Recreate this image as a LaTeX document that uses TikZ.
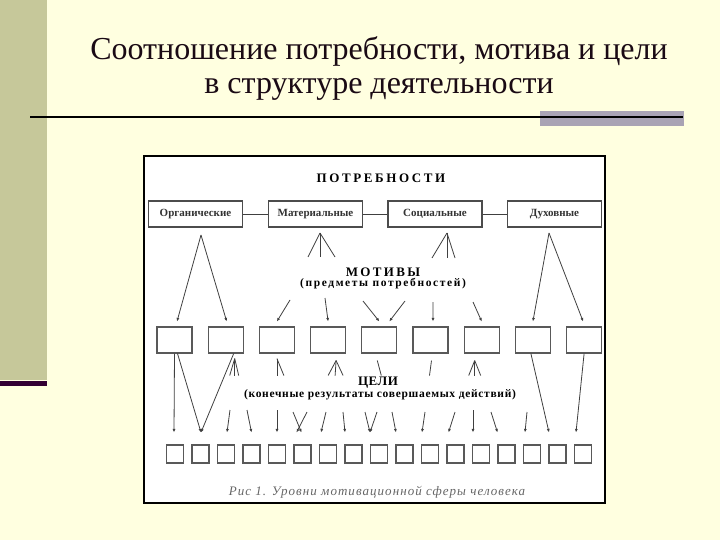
\documentclass[tikz,border=0pt]{standalone}
\usepackage{fontspec}
\setmainfont{Liberation Serif}
\usetikzlibrary{arrows.meta}
\definecolor{slidebg}{HTML}{FFFFE0}
\definecolor{slidebar}{HTML}{C6C89A}
\definecolor{slideline}{HTML}{330033}
\definecolor{slidegray}{HTML}{A9A3B4}
\definecolor{titleink}{HTML}{1A0A14}

\begin{document}
\begin{tikzpicture}[x=1pt,y=-1pt,
  needbox/.style={draw=black!70,line width=1.1pt,fill=white,minimum width=94pt,minimum height=26pt,inner sep=0pt,
    font=\fontsize{11}{12}\selectfont\bfseries,text=black!80},
  motbox/.style={draw=black!65,line width=1.1pt,fill=white,minimum width=35pt,minimum height=26pt,inner sep=0pt},
  goalbox/.style={draw=black!65,line width=1.1pt,fill=white,minimum width=17pt,minimum height=18pt,inner sep=0pt},
  ln/.style={draw=black!75,line width=0.8pt},
  arr/.style={ln,-{Latex[length=3.5pt,width=3pt]}},
  heading/.style={inner sep=0pt,font=\fontsize{13}{15}\selectfont\bfseries},
  subhead/.style={inner sep=0pt,font=\fontsize{11.5}{13}\selectfont\bfseries}]

  \useasboundingbox (0,0) rectangle (720,540);
  \fill[slidebg] (0,0) rectangle (720,540);
  \fill[slidebar] (0,0) rectangle (47,380);
  \fill[slideline] (0,381) rectangle (47,386);
  \node[font=\fontsize{32}{38}\selectfont,text=titleink] (title1) at (379,51) {Соотношение потребности, мотива и цели};
  \node[font=\fontsize{32}{38}\selectfont,text=titleink] (title2) at (379,89) {в структуре деятельности};
  \fill[slidegray] (540,111) rectangle (684,126);
  \draw[black,line width=2pt] (30,117) -- (683,117);

  \draw[black,line width=2.5pt,fill=white] (144,156) rectangle (605,503);

  \node[heading] (needs) at (381,178) {\addfontfeature{LetterSpace=20}ПОТРЕБНОСТИ};
  \foreach \name/\x/\txt in {n1/195.5/Органические, n2/315.5/Материальные, n3/435/Социальные, n4/554.5/Духовные}
    \node[needbox] (\name) at (\x,214) {\txt};
  \draw[ln] (n1) -- (n2) (n2) -- (n3) (n3) -- (n4);

  \foreach \i in {1,...,9}
    \node[motbox] (m\i) at ({174.5+51.2*(\i-1)},340) {};
  \foreach \i in {1,...,17}
    \node[goalbox] (g\i) at ({175+25.5*(\i-1)},454) {};

  \coordinate (a1) at (201,235);
  \coordinate (a2) at (320,233);
  \coordinate (a3) at (447,233);
  \coordinate (a4) at (549,233);
  \draw[arr] (a1) -- ([shift={(2.5,-5)}]m1.north);
  \draw[arr] (a1) -- ([shift={(1,-5)}]m2.north);
  \draw[arr] (a4) -- ([shift={(0,-5)}]m8.north);
  \draw[arr] (a4) -- ([shift={(-1,-5)}]m9.north);
  \foreach \dx in {-12,0,15} \draw[ln] (a2) -- ++(\dx,24);
  \foreach \dx in {-15,0,8} \draw[ln] (a3) -- ++(\dx,25);

  \node[heading] (motives) at (383,272) {\addfontfeature{LetterSpace=18}МОТИВЫ};
  \node[subhead] (motsub) at (383,284) {\addfontfeature{LetterSpace=14}(предметы потребностей)};
  \foreach \i/\sx/\sy/\dx in {3/290/300/0, 4/325/298/0, 5/363/301/0, 5/405/301/10, 6/433/302/2.5, 7/473/302/0}
    \draw[arr] (\sx,\sy) -- ([shift={(\dx,-5)}]m\i.north);

  \draw[arr] (m1.south) -- ([shift={(-1,-12)}]g1.north);
  \draw[arr] ([xshift=3pt]m1.south) -- ([shift={(0.5,-12)}]g2.north);
  \draw[arr] ([xshift=8pt]m2.south) -- ([shift={(0.5,-12)}]g2.north);
  \draw[arr] ([xshift=-2pt]m8.south) -- ([shift={(-8.5,-12)}]g16.north);
  \draw[arr] (m9.south) -- ([shift={(-7,-12)}]g17.north);

  \coordinate (t2) at ([shift={(9,5)}]m2.south);
  \coordinate (t3) at ([shift={(0,5)}]m3.south);
  \coordinate (t4) at ([shift={(8,7)}]m4.south);
  \coordinate (t5) at ([shift={(-2,7)}]m5.south);
  \coordinate (t6) at ([shift={(1,7)}]m6.south);
  \coordinate (t7) at ([shift={(-7,7)}]m7.south);
  \foreach \dx in {-5,0,4} \draw[ln] (t2) -- ++(\dx,17);
  \foreach \dx in {0,7} \draw[ln] (t3) -- ++(\dx,17);
  \foreach \dx in {-8,-1,7} \draw[ln] (t4) -- ++(\dx,15);
  \draw[ln] (t5) -- ++(4,15);
  \draw[ln] (t6) -- ++(-2,15);
  \foreach \dx in {-6,0,6} \draw[ln] (t7) -- ++(\dx,15);

  \node[heading] (goals) at (378,383) {\addfontfeature{LetterSpace=4}ЦЕЛИ};
  \node[subhead] (goalsub) at (380,395) {\addfontfeature{LetterSpace=6}(конечные результаты совершаемых действий)};
  \foreach \i/\sx/\sy/\dx in {3/230/410/1, 4/247/410/0, 5/277/410/0, 6/293/412/-1, 6/307/412/-6,
      7/326/412/-7, 8/343/412/-8.5, 9/365/412/-9, 9/377/412/-9, 10/392/412/-8.5, 11/425/412/-8,
      12/455/412/-7, 13/473/410/-8, 14/491/412/-9, 15/527/412/-7}
    \draw[arr] (\sx,\sy) -- ([shift={(\dx,-12)}]g\i.north);

  \node[font=\fontsize{13}{15}\selectfont\itshape,text=black!60] (caption) at (377,492)
    {\addfontfeature{LetterSpace=8}Рис 1. Уровни мотивационной сферы человека};
\end{tikzpicture}
\end{document}
